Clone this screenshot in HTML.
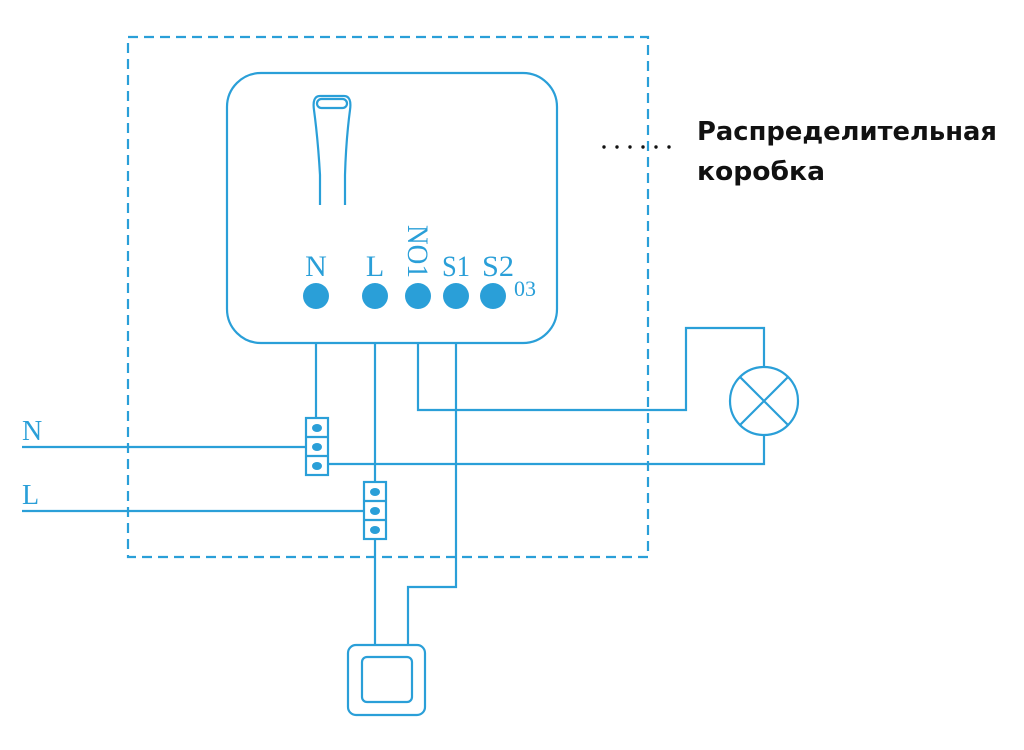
<!DOCTYPE html>
<html><head><meta charset="utf-8"><style>
html,body{margin:0;padding:0;background:#fff;width:1024px;height:750px;overflow:hidden}
svg{display:block}
</style></head><body>
<svg width="1024" height="750" viewBox="0 0 1024 750" xmlns="http://www.w3.org/2000/svg">
<g fill="none" stroke="#2a9fd8" stroke-width="2.2">
<rect x="128" y="37" width="520" height="520" stroke-dasharray="10,6"/>
<rect x="227" y="73" width="330" height="270" rx="34"/>
<path d="M320 205 L320 175 Q318 140 314 110 Q312 96 320 96 L344 96 Q352 96 350 110 Q346 140 345 175 L345 205"/>
<rect x="317" y="99" width="30" height="9" rx="4.5"/>
<path d="M316 343 V418"/>
<path d="M375 343 V645"/>
<path d="M418 343 V410 H686 V328 H764 V367"/>
<path d="M456 343 V587 H408 V645"/>
<path d="M764 435 V464 H328"/>
<path d="M22 447 H306"/>
<path d="M22 511 H364"/>
<circle cx="764" cy="401" r="34"/>
<path d="M740 377 L788 425 M788 377 L740 425"/>
<rect x="306" y="418" width="22" height="57"/>
<path d="M306 437 H328 M306 456 H328"/>
<rect x="364" y="482" width="22" height="57" fill="#fff"/>
<path d="M364 501 H386 M364 520 H386"/>
<rect x="348" y="645" width="77" height="70" rx="8"/>
<rect x="362" y="657" width="50" height="45" rx="5"/>
</g>
<g fill="#2a9fd8">
<circle cx="316" cy="296" r="13"/><circle cx="375" cy="296" r="13"/><circle cx="418" cy="296" r="13"/><circle cx="456" cy="296" r="13"/><circle cx="493" cy="296" r="13"/>
<ellipse cx="317" cy="428" rx="5" ry="4"/><ellipse cx="317" cy="447" rx="5" ry="4"/><ellipse cx="317" cy="466" rx="5" ry="4"/>
<ellipse cx="375" cy="492" rx="5" ry="4"/><ellipse cx="375" cy="511" rx="5" ry="4"/><ellipse cx="375" cy="530" rx="5" ry="4"/>
</g>
<g fill="#2a9fd8" font-family="Liberation Serif, serif" font-size="30">
<text x="316" y="276" text-anchor="middle">N</text>
<text x="375" y="276" text-anchor="middle">L</text>
<text x="456" y="276" text-anchor="middle" textLength="28" lengthAdjust="spacingAndGlyphs">S1</text>
<text x="498" y="276" text-anchor="middle" textLength="32" lengthAdjust="spacingAndGlyphs">S2</text>
<text transform="translate(408,225) rotate(90)" textLength="53" lengthAdjust="spacingAndGlyphs">NO1</text>
<text x="514" y="296" font-size="22">03</text>
<text x="22" y="440" font-size="28">N</text>
<text x="22" y="504" font-size="28">L</text>
</g>
<g fill="#111"><circle cx="604" cy="147" r="1.7"/><circle cx="617" cy="147" r="1.7"/><circle cx="630" cy="147" r="1.7"/><circle cx="643" cy="147" r="1.7"/><circle cx="656" cy="147" r="1.7"/><circle cx="669" cy="147" r="1.7"/></g>
<g fill="#111" font-family="DejaVu Sans, sans-serif" font-size="26" font-weight="bold">
<text x="697" y="140" textLength="300" lengthAdjust="spacingAndGlyphs">Распределительная</text>
<text x="697" y="180" textLength="128" lengthAdjust="spacingAndGlyphs">коробка</text>
</g>
</svg>
</body></html>
